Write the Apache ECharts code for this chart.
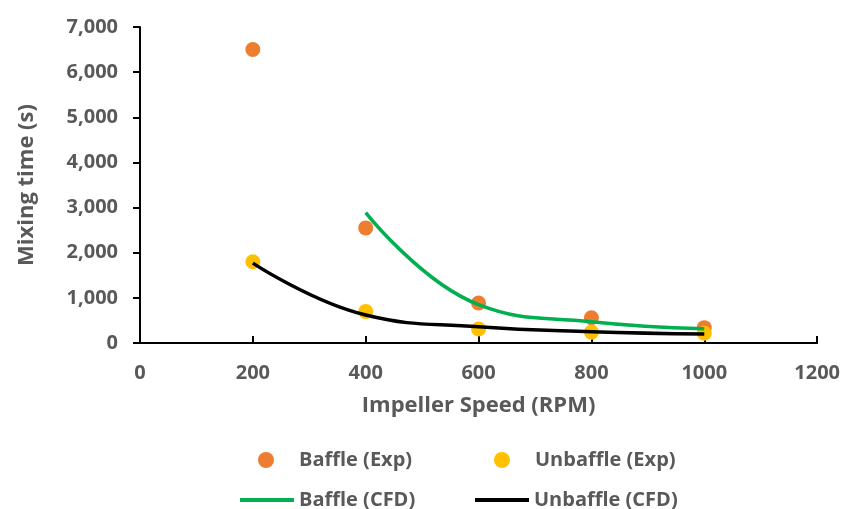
<!DOCTYPE html>
<html>
<head>
<meta charset="utf-8">
<script src="https://cdn.jsdelivr.net/npm/echarts@6/dist/echarts.min.js"></script>
<style>
  html, body { margin: 0; padding: 0; background: #fff; }
  #chart { width: 843px; height: 509px; }
</style>
</head>
<body>
<div id="chart"></div>
<script>
  // values
  var speeds = [200, 400, 600, 800, 1000]
  var baffleExp = [6500, 2550, 885, 560, 340]
  var unbaffleExp = [1800, 700, 310, 240, 215]
  var baffleCfdX = [400, 600, 800, 1000]
  var baffleCfd = [2890, 850, 470, 315]
  var unbaffleCfd = [1770, 620, 360, 250, 200]

  var font = 'Open Sans'
  var grey = '#595959'

  function pairs(xs, ys) {
    return xs.map(function(x, i) { return [x, ys[i]] })
  }

  var myChart = echarts.init(document.getElementById('chart'))

  var legendText = { fontFamily: font, fontWeight: 'bold', fontSize: 20, color: grey }

  // circle items: small icon box, text pushed right to line up with the line items
  function dotLegend(name, left, top) {
    return {
      data: [name], left: left, top: top, icon: 'circle',
      itemWidth: 16, itemHeight: 16, selectedMode: false,
      textStyle: Object.assign({ padding: [0, 0, 0, 20] }, legendText)
    }
  }
  function lineLegend(name, left, top) {
    return {
      data: [name], left: left, top: top, icon: 'rect',
      itemWidth: 54, itemHeight: 4, selectedMode: false,
      textStyle: legendText
    }
  }

  var option = {
    animation: false,
    grid: {
      left: 140,
      right: 23,
      top: 27,
      bottom: 166
    },
    legend: [
      dotLegend('Baffle (Exp)', 253, 445),
      dotLegend('Unbaffle (Exp)', 489, 445),
      lineLegend('Baffle (CFD)', 235, 485),
      lineLegend('Unbaffle (CFD)', 470, 485)
    ],
    xAxis: {
      type: 'value',
      min: 0,
      max: 1200,
      interval: 200,
      name: 'Impeller Speed (RPM)',
      nameLocation: 'middle',
      nameGap: 52,
      nameTextStyle: { fontFamily: font, fontWeight: 'bold', fontSize: 22, color: grey },
      axisLine: { lineStyle: { color: '#000', width: 2 } },
      axisTick: { show: true, inside: true, length: 7, lineStyle: { color: '#000', width: 2 } },
      axisLabel: {
        fontFamily: font, fontWeight: 'bold', fontSize: 20, color: grey, margin: 20,
        formatter: function(v) { return String(v) }
      },
      splitLine: { show: false }
    },
    yAxis: {
      type: 'value',
      min: 0,
      max: 7000,
      interval: 1000,
      name: 'Mixing time (s)',
      nameLocation: 'middle',
      nameGap: 102,
      nameTextStyle: { fontFamily: font, fontWeight: 'bold', fontSize: 22, color: grey },
      axisLine: { show: true, lineStyle: { color: '#000', width: 2 } },
      axisTick: { show: true, length: 7, lineStyle: { color: '#000', width: 2 } },
      axisLabel: {
        fontFamily: font, fontWeight: 'bold', fontSize: 20, color: grey, margin: 22,
        formatter: function(v) { return v.toLocaleString('en-US') }
      },
      splitLine: { show: false }
    },
    series: [{
      name: 'Baffle (Exp)',
      type: 'scatter',
      symbolSize: 15,
      itemStyle: { color: '#ED7D31', opacity: 1 },
      data: pairs(speeds, baffleExp)
    }, {
      name: 'Unbaffle (Exp)',
      type: 'scatter',
      symbolSize: 15,
      itemStyle: { color: '#FFC000', opacity: 1 },
      data: pairs(speeds, unbaffleExp)
    }, {
      name: 'Baffle (CFD)',
      type: 'line',
      smooth: 0.45,
      showSymbol: false,
      itemStyle: { color: '#00B050' },
      lineStyle: { color: '#00B050', width: 3.5 },
      data: pairs(baffleCfdX, baffleCfd)
    }, {
      name: 'Unbaffle (CFD)',
      type: 'line',
      smooth: 0.45,
      showSymbol: false,
      itemStyle: { color: '#000' },
      lineStyle: { color: '#000', width: 3.5 },
      data: pairs(speeds, unbaffleCfd)
    }]
  }

  myChart.setOption(option)
</script>
</body>
</html>
